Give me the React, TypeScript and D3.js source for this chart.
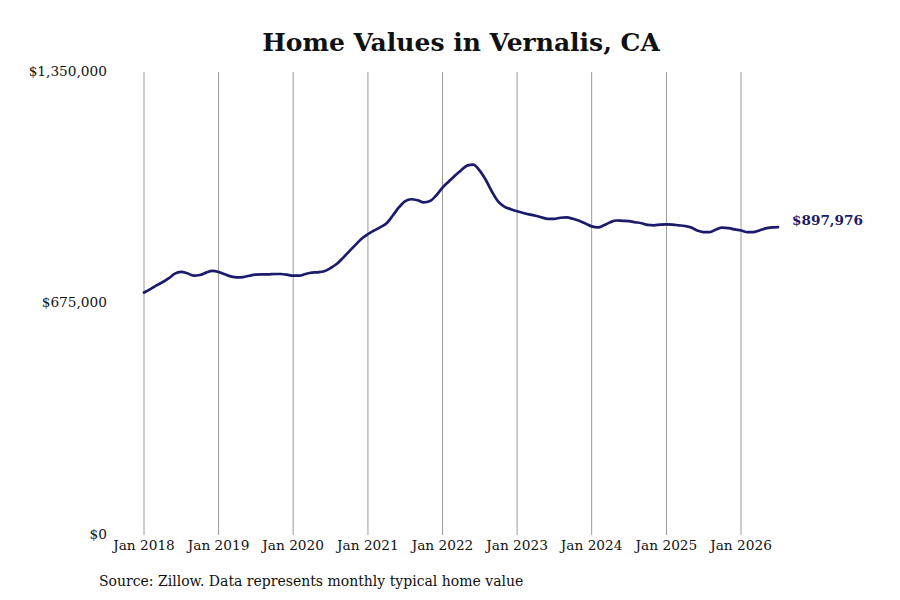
import React from 'react';
import * as d3 from 'd3';

// monthly typical home value, Jan 2018 .. Jul 2026
const startYear = 2018;
const homeValues: number[] = [
  // 2018
  707000, 717000, 727000, 737000, 748000, 762000, 767000, 763000, 756000, 758000, 765000, 770000,
  // 2019
  767000, 760000, 754000, 751000, 752000, 756000, 759000, 760000, 760000, 761000, 761000, 759000,
  // 2020
  756000, 756000, 761000, 765000, 766000, 769000, 778000, 790000, 808000, 827000, 846000, 864000,
  // 2021
  877000, 888000, 897000, 908000, 930000, 955000, 973000, 979000, 976000, 970000, 974000, 990000,
  // 2022
  1013000, 1031000, 1047000, 1063000, 1077000, 1080000, 1063000, 1035000, 1000000, 972000, 957000, 950000,
  // 2023
  944000, 939000, 935000, 931000, 926000, 922000, 922000, 925000, 926000, 922000, 916000, 908000,
  // 2024
  900000, 897000, 903000, 912000, 917000, 916000, 915000, 912000, 909000, 904000, 903000, 905000,
  // 2025
  906000, 905000, 903000, 901000, 897000, 888000, 883000, 883000, 891000, 896000, 895000, 891000,
  // 2026
  888000, 883000, 883000, 888000, 894000, 897000, 897976,
];

const yTicks = [0, 675000, 1350000];
const xTickYears = [2018, 2019, 2020, 2021, 2022, 2023, 2024, 2025, 2026];

const title = 'Home Values in Vernalis, CA';
const source = 'Source: Zillow. Data represents monthly typical home value';

const W = 900;
const H = 600;
const font = '"DejaVu Serif", serif';
const lineColor = '#1b1a6b';

export default function App() {
  const data = homeValues.map((v, i) => ({ date: new Date(startYear, i, 1), value: v }));
  const last = data[data.length - 1];

  const x = d3.scaleTime()
    .domain([data[0].date, last.date])
    .range([144, 778]);
  const y = d3.scaleLinear()
    .domain([0, 1350000])
    .range([535, 72]);

  const line = d3.line<{ date: Date; value: number }>()
    .x(d => x(d.date))
    .y(d => y(d.value))
    .curve(d3.curveMonotoneX);

  const fmt = d3.format('$,.0f');

  return (
    <svg width={W} height={H} style={{ position: 'absolute', left: 0, top: 0, background: '#fff' }}
      fontFamily={font}>
      <text x={461} y={44} textAnchor="middle" dominantBaseline="middle" fontSize={25} fontWeight="bold" fill="#111">
        {title}
      </text>

      {/* vertical gridlines at each January */}
      {xTickYears.map(yr => {
        const xx = x(new Date(yr, 0, 1));
        return (
          <g key={yr}>
            <line x1={xx} x2={xx} y1={y(1350000)} y2={y(0)} stroke="#9a9a9a" strokeWidth={1} />
            <text x={xx} y={546} textAnchor="middle" dominantBaseline="middle" fontSize={13.7} fill="#111">
              {`Jan ${yr}`}
            </text>
          </g>
        );
      })}

      {yTicks.map(t => (
        <text key={t} x={107} y={y(t)} textAnchor="end" dominantBaseline="middle" fontSize={13.7} fill="#111">
          {fmt(t)}
        </text>
      ))}

      <path d={line(data) || ''} fill="none" stroke={lineColor} strokeWidth={2.7}
        strokeLinejoin="round" strokeLinecap="round" />

      <text x={792} y={y(last.value) - 6} dominantBaseline="middle" fontSize={13.6} fontWeight="bold" fill={lineColor}>
        {fmt(last.value)}
      </text>

      <text x={99} y={582} dominantBaseline="middle" fontSize={14} fill="#111">{source}</text>
    </svg>
  );
}
